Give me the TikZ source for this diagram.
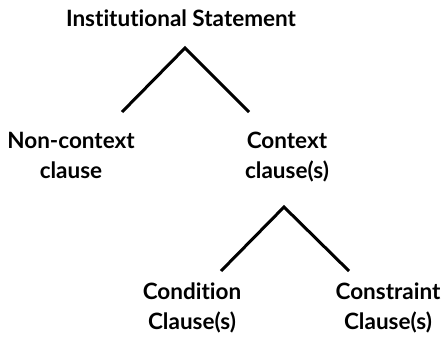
\documentclass[tikz,border=0pt]{standalone}
\usepackage{fontspec}
\setmainfont{Lato}[Ligatures={NoCommon}]
\begin{document}
\begin{tikzpicture}[x=1pt,y=-1pt,
  label/.style={font=\fontsize{22.5}{30}\selectfont\bfseries, align=center, anchor=base, inner sep=0pt},
  branch/.style={line width=3pt, line cap=butt, line join=miter}]
  \useasboundingbox (0,0) rectangle (444,340);

  % root statement
  \node[label] (root) at (181,27) {Institutional Statement};

  % first split
  \coordinate (apexA) at (185,48);
  \coordinate (endAL) at (122,112);
  \coordinate (endAR) at (249,112);
  \draw[branch] (endAL) -- (apexA) -- (endAR);

  % two-line labels: the base anchor sits on the last line
  \node[label] (noncontext) at (71,178) {Non-context\\clause};
  \node[label] (context) at (287,178) {Context\\clause(s)};

  % second split
  \coordinate (apexB) at (284,207);
  \coordinate (endBL) at (221,271);
  \coordinate (endBR) at (349,271);
  \draw[branch] (endBL) -- (apexB) -- (endBR);

  \node[label] (condition) at (192,329) {Condition\\Clause(s)};
  \node[label] (constraint) at (388,329) {Constraint\\Clause(s)};
\end{tikzpicture}
\end{document}
